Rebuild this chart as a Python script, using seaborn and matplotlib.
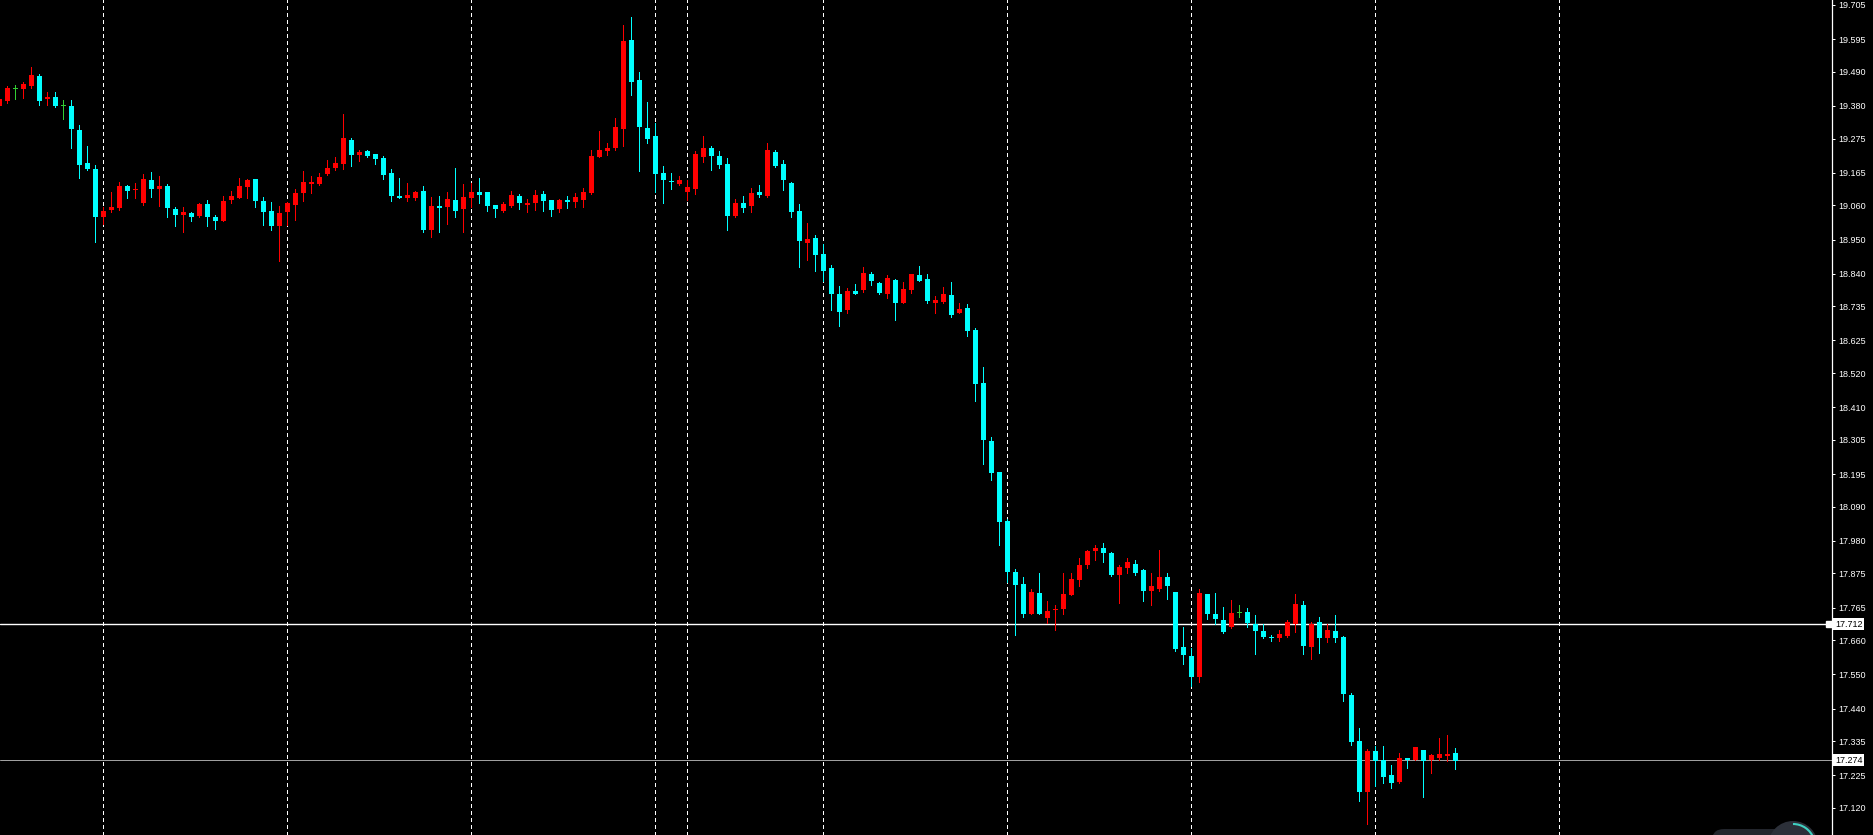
import numpy as np
import pandas as pd
import matplotlib
matplotlib.use('Agg')
import matplotlib.pyplot as plt
import matplotlib.transforms as mtransforms
from matplotlib.patches import Circle, Arc, FancyBboxPatch
import seaborn as sns

# OHLC values, oldest candle first
opens = [19.381, 19.396, 19.437, 19.435, 19.445, 19.476, 19.402, 19.409, 19.382, 19.380,
         19.303, 19.196, 19.177, 19.021, 19.046, 19.053, 19.122, 19.110, 19.068, 19.142,
         19.114, 19.122, 19.048, 19.030, 19.036, 19.027, 19.065, 19.023, 19.008, 19.078,
         19.085, 19.120, 19.145, 19.074, 19.042, 18.992, 19.037, 19.062, 19.101, 19.129,
         19.130, 19.162, 19.181, 19.194, 19.270, 19.222, 19.235, 19.225, 19.213, 19.164,
         19.090, 19.085, 19.085, 19.106, 18.982, 19.058, 19.056, 19.077, 19.049, 19.082,
         19.103, 19.103, 19.061, 19.043, 19.059, 19.090, 19.062, 19.069, 19.097, 19.077,
         19.049, 19.077, 19.072, 19.078, 19.101, 19.217, 19.236, 19.243, 19.307, 19.592,
         19.464, 19.309, 19.283, 19.164, 19.139, 19.130, 19.104, 19.114, 19.217, 19.245,
         19.219, 19.193, 19.027, 19.068, 19.059, 19.103, 19.091, 19.232, 19.193, 19.132,
         19.042, 18.939, 18.955, 18.904, 18.859, 18.775, 18.724, 18.785, 18.786, 18.839,
         18.810, 18.776, 18.820, 18.747, 18.789, 18.836, 18.823, 18.747, 18.750, 18.772,
         18.712, 18.730, 18.659, 18.488, 18.302, 18.202, 18.044, 17.880, 17.841, 17.743,
         17.812, 17.733, 17.756, 17.759, 17.807, 17.855, 17.901, 17.946, 17.957, 17.941,
         17.871, 17.894, 17.906, 17.886, 17.820, 17.826, 17.864, 17.816, 17.639, 17.610,
         17.543, 17.809, 17.745, 17.726, 17.701, 17.748, 17.751, 17.713, 17.690, 17.671,
         17.666, 17.675, 17.711, 17.774, 17.637, 17.719, 17.666, 17.690, 17.671, 17.484,
         17.336, 17.170, 17.304, 17.275, 17.227, 17.205, 17.281, 17.276, 17.307, 17.273,
         17.282, 17.286, 17.297]
highs = [19.406, 19.444, 19.448, 19.456, 19.505, 19.483, 19.425, 19.425, 19.399, 19.399,
         19.319, 19.251, 19.190, 19.056, 19.103, 19.135, 19.126, 19.132, 19.161, 19.168,
         19.155, 19.129, 19.055, 19.055, 19.039, 19.068, 19.077, 19.029, 19.090, 19.106,
         19.148, 19.145, 19.145, 19.087, 19.071, 19.058, 19.071, 19.113, 19.171, 19.155,
         19.164, 19.206, 19.216, 19.354, 19.277, 19.238, 19.238, 19.225, 19.219, 19.177,
         19.148, 19.132, 19.106, 19.122, 19.087, 19.090, 19.103, 19.180, 19.129, 19.132,
         19.148, 19.103, 19.061, 19.071, 19.106, 19.097, 19.081, 19.110, 19.106, 19.077,
         19.081, 19.090, 19.100, 19.116, 19.238, 19.299, 19.261, 19.341, 19.641, 19.666,
         19.489, 19.393, 19.325, 19.187, 19.164, 19.155, 19.142, 19.235, 19.283, 19.251,
         19.235, 19.213, 19.081, 19.090, 19.116, 19.126, 19.261, 19.238, 19.206, 19.135,
         19.065, 19.003, 18.965, 18.936, 18.868, 18.801, 18.794, 18.807, 18.862, 18.846,
         18.813, 18.836, 18.823, 18.813, 18.839, 18.865, 18.839, 18.768, 18.797, 18.813,
         18.746, 18.743, 18.665, 18.540, 18.315, 18.202, 18.051, 17.890, 17.864, 17.825,
         17.877, 17.787, 17.774, 17.877, 17.877, 17.925, 17.951, 17.967, 17.973, 17.944,
         17.903, 17.925, 17.919, 17.890, 17.877, 17.951, 17.877, 17.816, 17.703, 17.635,
         17.825, 17.809, 17.812, 17.767, 17.790, 17.774, 17.764, 17.742, 17.713, 17.677,
         17.693, 17.726, 17.809, 17.787, 17.719, 17.735, 17.713, 17.742, 17.674, 17.491,
         17.378, 17.310, 17.320, 17.320, 17.259, 17.297, 17.281, 17.317, 17.307, 17.294,
         17.346, 17.355, 17.314]
lows = [19.379, 19.389, 19.402, 19.407, 19.439, 19.384, 19.383, 19.377, 19.338, 19.246,
        19.149, 19.174, 18.943, 19.001, 19.040, 19.045, 19.085, 19.085, 19.061, 19.088,
        19.059, 19.024, 18.995, 18.975, 19.011, 19.024, 18.992, 18.985, 19.008, 19.069,
        19.082, 19.082, 19.056, 18.998, 18.979, 18.882, 18.996, 19.014, 19.075, 19.101,
        19.127, 19.159, 19.175, 19.178, 19.188, 19.204, 19.214, 19.194, 19.146, 19.075,
        19.082, 19.075, 19.078, 18.975, 18.959, 18.975, 19.001, 19.024, 18.975, 19.056,
        19.069, 19.043, 19.024, 19.040, 19.056, 19.049, 19.037, 19.046, 19.043, 19.027,
        19.040, 19.053, 19.056, 19.056, 19.095, 19.214, 19.223, 19.239, 19.252, 19.416,
        19.172, 19.262, 19.104, 19.069, 19.111, 19.127, 19.078, 19.095, 19.198, 19.175,
        19.181, 18.979, 19.024, 19.040, 19.037, 19.088, 19.088, 19.185, 19.110, 19.021,
        18.863, 18.885, 18.847, 18.815, 18.724, 18.670, 18.712, 18.773, 18.782, 18.805,
        18.773, 18.763, 18.692, 18.744, 18.779, 18.818, 18.744, 18.715, 18.744, 18.699,
        18.712, 18.638, 18.431, 18.226, 18.177, 17.968, 17.849, 17.678, 17.736, 17.743,
        17.746, 17.717, 17.694, 17.746, 17.804, 17.836, 17.891, 17.917, 17.913, 17.868,
        17.781, 17.875, 17.871, 17.785, 17.772, 17.817, 17.794, 17.624, 17.582, 17.514,
        17.524, 17.727, 17.711, 17.682, 17.698, 17.736, 17.701, 17.617, 17.666, 17.656,
        17.656, 17.669, 17.685, 17.617, 17.601, 17.620, 17.653, 17.653, 17.463, 17.324,
        17.144, 17.070, 17.192, 17.202, 17.183, 17.202, 17.250, 17.273, 17.154, 17.231,
        17.276, 17.270, 17.247]
closes = [19.402, 19.438, 19.437, 19.451, 19.480, 19.397, 19.409, 19.381, 19.382, 19.307,
          19.191, 19.178, 19.024, 19.042, 19.055, 19.122, 19.107, 19.114, 19.145, 19.111,
          19.122, 19.050, 19.030, 19.039, 19.024, 19.065, 19.024, 19.008, 19.074, 19.090,
          19.122, 19.142, 19.075, 19.037, 18.992, 19.036, 19.068, 19.100, 19.135, 19.135,
          19.151, 19.180, 19.196, 19.277, 19.222, 19.232, 19.219, 19.209, 19.159, 19.091,
          19.082, 19.093, 19.103, 18.982, 19.058, 19.053, 19.081, 19.043, 19.087, 19.103,
          19.093, 19.059, 19.049, 19.064, 19.093, 19.066, 19.068, 19.093, 19.075, 19.046,
          19.077, 19.072, 19.087, 19.103, 19.219, 19.238, 19.245, 19.312, 19.589, 19.458,
          19.313, 19.275, 19.162, 19.140, 19.136, 19.142, 19.119, 19.225, 19.245, 19.220,
          19.191, 19.027, 19.068, 19.053, 19.100, 19.094, 19.238, 19.188, 19.142, 19.037,
          18.946, 18.952, 18.901, 18.850, 18.776, 18.718, 18.785, 18.773, 18.842, 18.815,
          18.779, 18.826, 18.747, 18.791, 18.839, 18.818, 18.753, 18.756, 18.775, 18.708,
          18.727, 18.657, 18.486, 18.303, 18.197, 18.039, 17.881, 17.839, 17.743, 17.816,
          17.746, 17.755, 17.761, 17.809, 17.858, 17.903, 17.948, 17.957, 17.942, 17.871,
          17.896, 17.912, 17.878, 17.820, 17.835, 17.864, 17.833, 17.633, 17.611, 17.543,
          17.812, 17.743, 17.727, 17.685, 17.748, 17.748, 17.714, 17.691, 17.672, 17.666,
          17.681, 17.719, 17.777, 17.643, 17.713, 17.666, 17.693, 17.666, 17.488, 17.331,
          17.170, 17.304, 17.272, 17.221, 17.202, 17.281, 17.273, 17.317, 17.270, 17.291,
          17.294, 17.294, 17.271]

# candle index of each dashed period separator
separators = [13, 36, 59, 82, 86, 103, 126, 149, 172, 195]

# price scale on the right
price_ticks = [19.705, 19.595, 19.490, 19.380, 19.275, 19.165, 19.060, 18.950, 18.840,
               18.735, 18.625, 18.520, 18.410, 18.305, 18.195, 18.090, 17.980, 17.875,
               17.765, 17.660, 17.550, 17.440, 17.335, 17.225, 17.120]
y_range = (17.033, 19.721)
level_price = 17.712   # white horizontal level
bid_price = 17.274     # grey current price line

df = pd.DataFrame({'open': opens, 'high': highs, 'low': lows, 'close': closes})
df['x'] = np.arange(len(df))
df['kind'] = np.where(df['close'] > df['open'], 'up',
                      np.where(df['close'] < df['open'], 'down', 'doji'))
palette = {'up': '#ff0000', 'down': '#00ffff', 'doji': '#32cd32'}
df['color'] = df['kind'].map(palette)

sns.set_style('dark', rc={'axes.facecolor': 'black', 'figure.facecolor': 'black',
                          'axes.edgecolor': 'white', 'axes.grid': False})
plt.rcParams['font.family'] = ['Liberation Sans', 'DejaVu Sans']

W, H = 1874, 835
fig = plt.figure(figsize=(W / 100, H / 100), dpi=100)
ax = fig.add_axes([0, 0, 1832 / W, 1])
px = (y_range[1] - y_range[0]) / H   # one pixel in price units

# period separators
for s in separators:
    ax.axvline(s, color='white', lw=0.72, linestyle=(0, (3, 3)), antialiased=False, zorder=1)

# horizontal lines
ax.axhline(level_price, color='white', lw=1.0, zorder=1)
ax.axhline(bid_price, color='#a0a0a0', lw=0.72, zorder=1)

# wicks
ax.vlines(df['x'], df['low'], df['high'], colors=df['color'], lw=0.72,
          antialiased=False, zorder=2)

# bodies (at least one pixel tall)
body_h = (df['close'] - df['open']).abs().clip(lower=px)
body_b = df[['open', 'close']].min(axis=1)
body_b = np.where(df['kind'] == 'doji', df['open'] - px / 2, body_b)
ax.bar(df['x'], body_h, bottom=body_b, width=0.625, color=df['color'],
       linewidth=0, antialiased=False, zorder=3)

ax.set_xlim(0.09, 229.09)
ax.set_ylim(*y_range)
ax.set_xticks([])
ax.set_yticks(price_ticks)
ax.set_yticklabels([f'{t:.3f}' for t in price_ticks])
ax.yaxis.tick_right()
ax.tick_params(axis='y', colors='white', length=2, width=0.72, pad=2.5,
               labelsize=6.5, right=True, left=False, labelright=True, labelleft=False)
for side in ['top', 'left', 'bottom']:
    ax.spines[side].set_visible(False)
ax.spines['right'].set_color('white')
ax.spines['right'].set_linewidth(0.9)

# boxed price labels on the scale
trans = mtransforms.blended_transform_factory(fig.transFigure, ax.transData)
for p in [level_price, bid_price]:
    ax.text(1835 / W, p, f'{p:.3f}', transform=trans, ha='left', va='center',
            fontsize=6.5, color='black', zorder=10,
            bbox=dict(boxstyle='square,pad=0.18', fc='white', ec='none'))
ax.plot([0.9985], [level_price], marker='s', markersize=4.3, color='white',
        transform=mtransforms.blended_transform_factory(ax.transAxes, ax.transData),
        clip_on=False, zorder=10)

# small overlay widget in the bottom right corner
ident = mtransforms.IdentityTransform()
fig.add_artist(FancyBboxPatch((1712, -20), 90, 26, boxstyle='round,pad=0,rounding_size=12',
                              transform=ident, fc='#22252c', ec='none'))
fig.add_artist(Circle((1793, -11), 25, transform=ident, fc='#2c3039', ec='none'))
fig.add_artist(Arc((1793, -11), 44, 44, theta1=20, theta2=90, transform=ident,
                   color='#3fd0c0', lw=1.5))

fig.savefig('out.png', dpi=100, facecolor='black')
